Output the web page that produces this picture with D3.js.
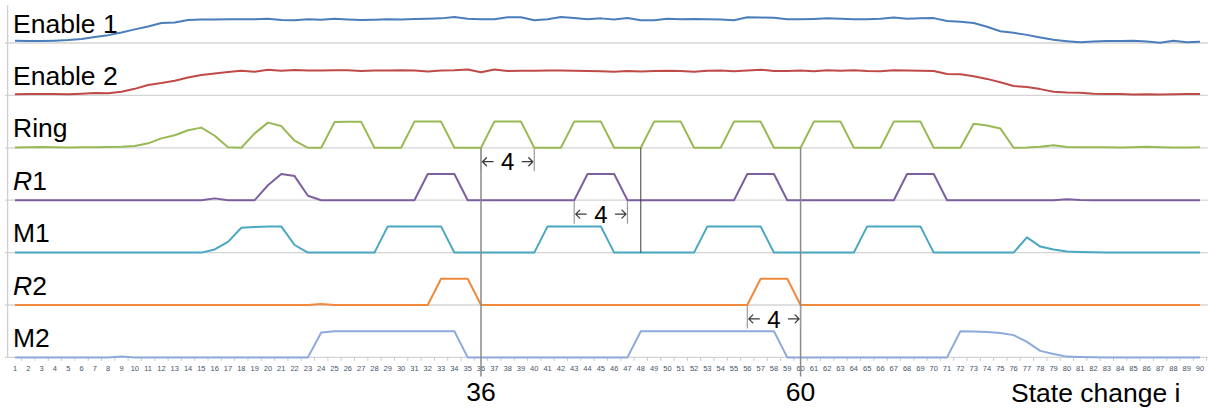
<!DOCTYPE html>
<html>
<head>
<meta charset="utf-8">
<script src="https://cdn.jsdelivr.net/npm/d3@7"></script>
<style>
  html, body { margin: 0; padding: 0; background: #fff; }
  svg { display: block; font-family: "Liberation Sans", Arial, sans-serif; }
</style>
</head>
<body>
<svg id="chart" width="1213" height="412"></svg>
<script>
// ---- data -------------------------------------------------------------
// state change index shown on the category axis
const stateIndex = d3.range(1, 91);

const enable1 = [
  0.09,0.08,0.08,0.09,0.11,0.15,0.23,0.30,0.40,0.52,
  0.63,0.76,0.78,0.88,0.90,0.90,0.91,0.91,0.91,0.93,
  0.88,0.87,0.91,0.89,0.93,0.90,0.88,0.89,0.91,0.90,
  0.92,0.93,0.94,0.99,0.93,0.91,0.91,0.98,0.98,0.87,
  0.91,0.99,0.95,0.91,0.94,0.90,0.95,0.87,0.87,0.93,
  0.91,0.92,0.91,0.90,0.87,0.98,0.97,0.96,0.91,0.91,
  0.92,0.94,0.93,0.91,0.91,0.93,0.97,0.93,0.94,0.95,
  0.84,0.81,0.76,0.62,0.45,0.39,0.31,0.21,0.12,0.07,
  0.03,0.06,0.08,0.08,0.09,0.06,0.01,0.09,0.03,0.05
];
const enable2 = [
  0.04,0.05,0.05,0.05,0.04,0.06,0.09,0.08,0.14,0.25,
  0.40,0.47,0.56,0.68,0.78,0.84,0.89,0.94,0.90,0.98,
  0.94,0.97,0.95,0.95,0.96,0.96,0.93,0.95,0.95,0.96,
  0.95,0.91,0.95,0.96,0.99,0.88,0.99,0.93,0.94,0.94,
  0.95,0.95,0.94,0.93,0.92,0.90,0.93,0.91,0.93,0.94,
  0.93,0.90,0.94,0.95,0.92,0.95,0.98,0.93,0.93,0.95,
  0.92,0.96,0.94,0.96,0.93,0.92,0.96,0.95,0.94,0.93,
  0.82,0.81,0.73,0.63,0.50,0.36,0.32,0.24,0.14,0.11,
  0.10,0.06,0.05,0.05,0.03,0.04,0.03,0.04,0.05,0.05
];
const ring = [
  0.01,0.02,0.03,0.02,0.01,0.02,0.02,0.03,0.04,0.07,
  0.17,0.36,0.48,0.67,0.77,0.46,0.02,0.00,0.55,0.96,
  0.83,0.27,0.00,0.00,0.98,0.99,0.99,0.00,0.00,0.00,
  1,1,1,0,0,0,1,1,1,0,
  0,0,1,1,1,0,0,0,1,1,
  1,0,0,0,1,1,1,0,0,0,
  1,1,1,0,0,0,1,1,1,0,
  0,0,0.92,0.85,0.74,0,0.01,0.04,0.10,0.03,
  0.02,0.02,0.02,0.01,0.02,0.04,0.02,0.01,0.01,0.02
];
const r1 = [
  0,0,0,0,0,0,0,0,0,0,
  0,0,0,0,0,0.07,0,0,0,0.57,
  1,0.92,0.17,0,0,0,0,0,0,0,
  0,1,1,1,0,0,0,0,0,0,
  0,0,0,1,1,1,0,0,0,0,
  0,0,0,0,0,1,1,1,0,0,
  0,0,0,0,0,0,0,1,1,1,
  0,0,0,0,0,0,0,0,0,0.04,
  0.01,0,0,0,0,0,0,0,0,0
];
const m1 = [
  0,0,0,0,0,0,0,0,0,0,
  0,0,0,0,0,0.12,0.41,0.95,0.98,1,
  1,0.29,0,0,0,0,0,0,1,1,
  1,1,1,0,0,0,0,0,0,0,
  1,1,1,1,1,0,0,0,0,0,
  0,0,1,1,1,1,1,0,0,0,
  0,0,0,0,1,1,1,1,1,0,
  0,0,0,0,0,0,0.58,0.23,0.12,0.04,
  0.02,0.01,0,0,0,0,0,0,0,0
];
const r2 = [
  0,0,0,0,0,0,0,0,0,0,
  0,0,0,0,0,0,0,0,0,0,
  0,0,0,0.04,0,0,0,0,0,0,
  0,0,1,1,1,0,0,0,0,0,
  0,0,0,0,0,0,0,0,0,0,
  0,0,0,0,0,0,1,1,1,0,
  0,0,0,0,0,0,0,0,0,0,
  0,0,0,0,0,0,0,0,0,0,
  0,0,0,0,0,0,0,0,0,0
];
const m2 = [
  0,0,0,0,0,0,0,0,0.03,0,
  0,0,0,0,0,0,0,0,0,0,
  0,0,0,0.95,1,1,1,1,1,1,
  1,1,1,1,0,0,0,0,0,0,
  0,0,0,0,0,0,0,1,1,1,
  1,1,1,1,1,1,1,1,0,0,
  0,0,0,0,0,0,0,0,0,0,
  0,1,0.99,0.97,0.93,0.85,0.59,0.25,0.13,0.03,
  0.02,0.01,0,0,0,0,0,0,0,0
];

// signal names, top to bottom ("*" prefix marks an italic leading letter)
const signalNames = ["Enable 1", "Enable 2", "Ring", "*R1", "M1", "*R2", "M2"];
const signalValues = [enable1, enable2, ring, r1, m1, r2, m2];
const signalColors = ["#4a7ebb", "#be4b48", "#98b954", "#7d5fa0", "#4aa7c2", "#ef8a3d", "#8eaadb"];

// marked state changes and the 4-step spans between them
const markerStates = [36, 48, 60];
const calloutStates = [36, 60];
const spanStates = [[36, 40, "Ring"], [43, 47, "*R1"], [56, 60, "*R2"]];
const spanLabel = "4";
const axisTitle = "State change i";

// ---- layout -----------------------------------------------------------
const svg = d3.select("#chart");
const W = 1213, H = 412;
const plotLeft = 8.3, plotRight = 1206.7;
const base = 357.4, rowGap = 26.2;      // px per unit; each row is 2 units tall
const rows = signalNames.length;

const x = d3.scaleBand().domain(stateIndex).range([plotLeft, plotRight]).padding(0);
const cx = i => x(i) + x.bandwidth() / 2;
const y = d3.scaleLinear().domain([0, 14]).range([base, base - 14 * rowGap]);
const rowOffset = k => (rows - 1 - k) * 2;

// horizontal gridlines, one per signal baseline
const gridG = svg.append("g");
gridG.selectAll("line").data(d3.range(rows)).join("line")
  .attr("x1", 5).attr("x2", plotRight + 1)
  .attr("y1", k => y(rowOffset(k))).attr("y2", k => y(rowOffset(k)))
  .attr("stroke", "#d4d4d4").attr("stroke-width", 1.3);

// vertical value axis line
svg.append("line")
  .attr("x1", 7.6).attr("x2", 7.6).attr("y1", 5).attr("y2", base)
  .attr("stroke", "#cfcfcf").attr("stroke-width", 1.3);

// category axis ticks (between categories) and labels
const xAxis = d3.axisBottom(x).tickSize(0).tickPadding(0);
const axG = svg.append("g").attr("transform", `translate(0,${base})`);
axG.call(xAxis);
axG.select(".domain").remove();
axG.selectAll(".tick text")
  .attr("y", 14).attr("dy", 0)
  .attr("font-size", 7.5)
  .attr("font-family", "'Liberation Sans', Arial, sans-serif")
  .attr("fill", "#44546a");
axG.selectAll(".bound").data(stateIndex.slice(1).concat([91])).join("line")
  .attr("class", "bound")
  .attr("x1", (d, j) => plotLeft + (j + 1) * x.step())
  .attr("x2", (d, j) => plotLeft + (j + 1) * x.step())
  .attr("y1", 0).attr("y2", 3.5)
  .attr("stroke", "#c8c8c8").attr("stroke-width", 1);

// signal traces
const line = d3.line().x(d => cx(d.i)).y(d => y(d.v));
signalValues.forEach((vals, k) => {
  const pts = vals.map((v, j) => ({ i: stateIndex[j], v: v + rowOffset(k) }));
  svg.append("path")
    .attr("d", line(pts))
    .attr("fill", "none")
    .attr("stroke", signalColors[k])
    .attr("stroke-width", 2)
    .attr("stroke-linejoin", "round");
});

// signal names
signalNames.forEach((name, k) => {
  const t = svg.append("text")
    .attr("x", 13).attr("y", y(rowOffset(k)) - 10.5)
    .attr("font-size", 26.5).attr("fill", "#000");
  if (name.startsWith("*")) {
    t.append("tspan").attr("font-style", "italic").text(name[1]);
    t.append("tspan").text(name.slice(2));
  } else {
    t.text(name);
  }
});

// marker lines
const rowOf = name => signalNames.indexOf(name);
const ringBase = y(rowOffset(rowOf("Ring")));
markerStates.forEach(s => {
  const isMid = !calloutStates.includes(s);
  svg.append("line")
    .attr("x1", cx(s)).attr("x2", cx(s))
    .attr("y1", ringBase)
    .attr("y2", isMid ? y(rowOffset(rowOf("M1"))) : 376.5)
    .attr("stroke", isMid ? "#3c3c3c" : "#8a8a8a")
    .attr("stroke-width", isMid ? 1 : 1.5);
});

// callout numbers under the axis
calloutStates.forEach(s => {
  svg.append("text")
    .attr("x", cx(s)).attr("y", 400.7)
    .attr("text-anchor", "middle")
    .attr("font-size", 26.5).attr("fill", "#000")
    .text(s);
});

// axis title
svg.append("text")
  .attr("x", 1011).attr("y", 401.5)
  .attr("font-size", 26.5).attr("fill", "#000")
  .text(axisTitle);

// span annotations: "<- 4 ->"
spanStates.forEach(([a, b, rowName]) => {
  const rowBase = y(rowOffset(rowOf(rowName)));
  const ay = y(rowOffset(rowOf(rowName)) - 0.53);
  const L = cx(a), R = cx(b);
  const g = svg.append("g");
  // end ticks
  [L, R].forEach(px => {
    g.append("line").attr("x1", px).attr("x2", px)
      .attr("y1", rowBase + 1).attr("y2", rowBase + 23.5)
      .attr("stroke", "#9a9a9a").attr("stroke-width", 1.2);
  });
  const arrowStyle = sel => sel.attr("fill", "none").attr("stroke", "#3a3a3a")
    .attr("stroke-width", 1.3).attr("stroke-linecap", "round").attr("stroke-linejoin", "round");
  // left arrow
  g.append("path").call(arrowStyle)
    .attr("d", `M${L + 12},${ay} L${L + 1.5},${ay} M${L + 5.5},${ay - 4} L${L + 1.5},${ay} L${L + 5.5},${ay + 4}`);
  // right arrow
  g.append("path").call(arrowStyle)
    .attr("d", `M${R - 12},${ay} L${R - 1.5},${ay} M${R - 5.5},${ay - 4} L${R - 1.5},${ay} L${R - 5.5},${ay + 4}`);
  g.append("text")
    .attr("x", (L + R) / 2).attr("y", ay + 8.8)
    .attr("text-anchor", "middle")
    .attr("font-size", 24).attr("fill", "#000")
    .text(spanLabel);
});
</script>
</body>
</html>
